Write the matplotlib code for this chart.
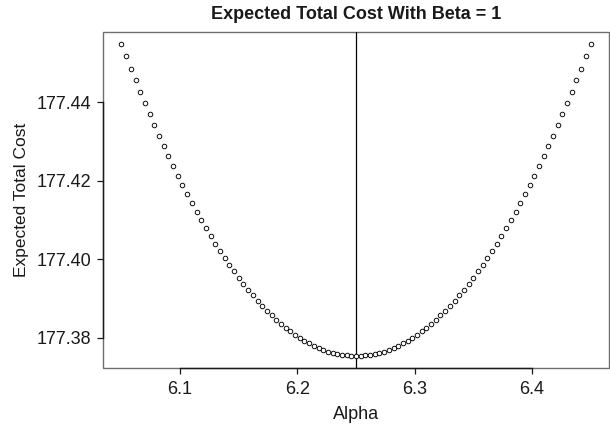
import matplotlib
matplotlib.use("Agg")
import matplotlib.pyplot as plt
from matplotlib.patches import Rectangle

plt.rcParams["font.family"] = ["Liberation Sans", "DejaVu Sans"]

# alpha grid, 6.05 .. 6.45 in steps of 0.004
ALPHA = [
    6.050, 6.054, 6.058, 6.062, 6.066, 6.070, 6.074, 6.078, 6.082, 6.086,
    6.090, 6.094, 6.098, 6.102, 6.106, 6.110, 6.114, 6.118, 6.122, 6.126,
    6.130, 6.134, 6.138, 6.142, 6.146, 6.150, 6.154, 6.158, 6.162, 6.166,
    6.170, 6.174, 6.178, 6.182, 6.186, 6.190, 6.194, 6.198, 6.202, 6.206,
    6.210, 6.214, 6.218, 6.222, 6.226, 6.230, 6.234, 6.238, 6.242, 6.246,
    6.250,
    6.254, 6.258, 6.262, 6.266, 6.270, 6.274, 6.278, 6.282, 6.286, 6.290,
    6.294, 6.298, 6.302, 6.306, 6.310, 6.314, 6.318, 6.322, 6.326, 6.330,
    6.334, 6.338, 6.342, 6.346, 6.350, 6.354, 6.358, 6.362, 6.366, 6.370,
    6.374, 6.378, 6.382, 6.386, 6.390, 6.394, 6.398, 6.402, 6.406, 6.410,
    6.414, 6.418, 6.422, 6.426, 6.430, 6.434, 6.438, 6.442, 6.446, 6.450,
]

# expected total cost (left half, minimum, right half)
COST_LEFT = [
    177.4548, 177.4517, 177.4486, 177.4456, 177.4426, 177.4397, 177.4369,
    177.4341, 177.4314, 177.4288, 177.4262, 177.4237, 177.4213, 177.4189,
    177.4166, 177.4143, 177.4121, 177.4100, 177.4079, 177.4059, 177.4040,
    177.4021, 177.4003, 177.3986, 177.3969, 177.3953, 177.3937, 177.3922,
    177.3908, 177.3894, 177.3881, 177.3869, 177.3857, 177.3846, 177.3835,
    177.3825, 177.3816, 177.3808, 177.3800, 177.3792, 177.3786, 177.3780,
    177.3774, 177.3770, 177.3765, 177.3762, 177.3759, 177.3757, 177.3755,
    177.3754,
]
COST_MIN = [177.3754]
COST_RIGHT = [
    177.3754, 177.3755, 177.3757, 177.3759, 177.3762, 177.3765, 177.3770,
    177.3774, 177.3780, 177.3786, 177.3792, 177.3800, 177.3808, 177.3816,
    177.3825, 177.3835, 177.3846, 177.3857, 177.3869, 177.3881, 177.3894,
    177.3908, 177.3922, 177.3937, 177.3953, 177.3969, 177.3986, 177.4003,
    177.4021, 177.4040, 177.4059, 177.4079, 177.4100, 177.4121, 177.4143,
    177.4166, 177.4189, 177.4213, 177.4237, 177.4262, 177.4288, 177.4314,
    177.4341, 177.4369, 177.4397, 177.4426, 177.4456, 177.4486, 177.4517,
    177.4548,
]
COST = COST_LEFT + COST_MIN + COST_RIGHT

BEST_ALPHA = 6.25
X_TICKS = [6.1, 6.2, 6.3, 6.4]
X_TICK_LABELS = ["6.1", "6.2", "6.3", "6.4"]
Y_TICKS = [177.38, 177.40, 177.42, 177.44]
Y_TICK_LABELS = ["177.38", "177.40", "177.42", "177.44"]

INK = "#1a1a1a"
BOX = "#6e6e6e"

fig = plt.figure(figsize=(6.10, 4.24), dpi=100)
ax = fig.add_axes([0.1684, 0.1314, 0.8305, 0.7938])

ax.plot(ALPHA, COST, ls="none", marker="o", ms=3.3, mfc="white",
        mec="black", mew=0.65, zorder=3)
ax.axvline(BEST_ALPHA, color="black", lw=0.9, zorder=2)

ax.margins(x=0.04, y=0.04)

# R-style frame: grey box, black axis line between first and last tick
for side in ("top", "right"):
    ax.spines[side].set_visible(False)
ax.add_patch(Rectangle((0, 0), 1, 1, transform=ax.transAxes, fill=False,
                       ec=BOX, lw=1.0, clip_on=False, zorder=1))
ax.spines["bottom"].set_bounds(X_TICKS[0], X_TICKS[-1])
ax.spines["left"].set_bounds(Y_TICKS[0], Y_TICKS[-1])
for side in ("bottom", "left"):
    ax.spines[side].set_color(INK)
    ax.spines[side].set_linewidth(1.0)
    ax.spines[side].set_zorder(2)

ax.set_xticks(X_TICKS, X_TICK_LABELS)
ax.set_yticks(Y_TICKS, Y_TICK_LABELS)
ax.tick_params(axis="both", direction="out", length=4, width=0.9,
               colors=INK, labelsize=13)
ax.tick_params(axis="x", pad=5)
ax.tick_params(axis="y", pad=4)

ax.set_xlabel("Alpha", fontsize=13, color=INK, labelpad=6)
ax.set_ylabel("Expected Total Cost", fontsize=12.5, color=INK, labelpad=6)
ax.set_title("Expected Total Cost With Beta = 1", fontsize=13,
             weight="bold", color=INK, pad=9)

fig.savefig("out.png", dpi=100)
